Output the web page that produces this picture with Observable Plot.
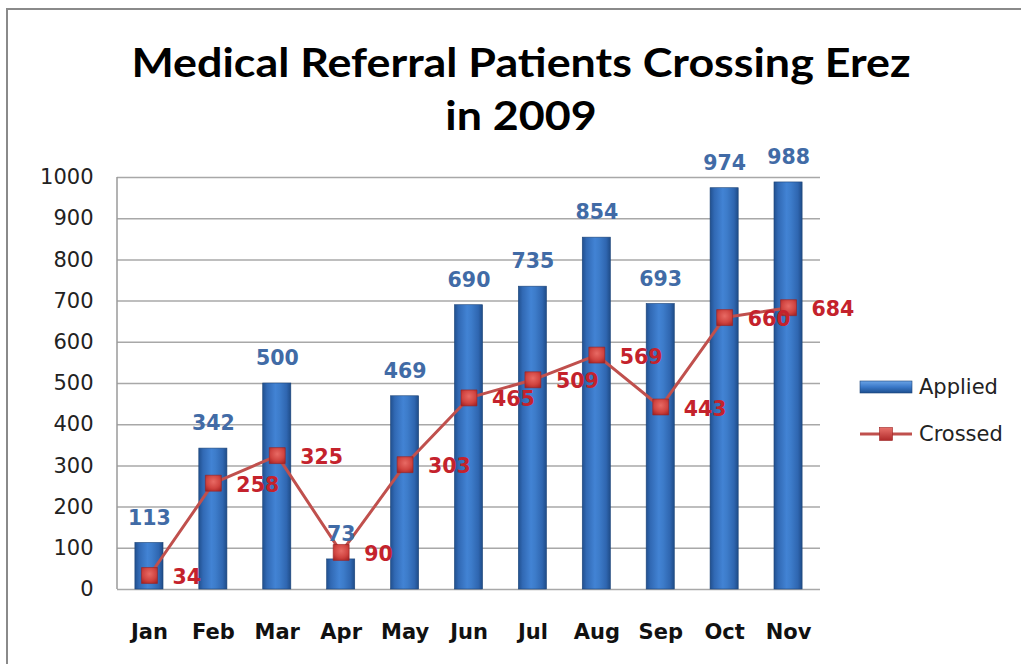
<!DOCTYPE html>
<html>
<head>
<meta charset="utf-8">
<script src="https://cdn.jsdelivr.net/npm/d3@7"></script>
<script src="https://cdn.jsdelivr.net/npm/@observablehq/plot@0.6"></script>
<style>
  html, body { margin: 0; padding: 0; background: #fff; }
  #wrap { position: relative; width: 1021px; height: 664px; overflow: hidden; background: #fff; }
  #frameTop { position: absolute; left: 7px; top: 8px; width: 1014px; height: 0; border-top: 2px solid #8a8a8a; }
  #frameLeft { position: absolute; left: 6px; top: 8px; width: 0; height: 656px; border-left: 2px solid #8a8a8a; }
  #title { position: absolute; left: 0; top: 36px; width: 1042px; text-align: center;
           font-family: Lato, "Open Sans", sans-serif; font-weight: bold; font-size: 40px; line-height: 53px; color: #000;
           transform: scaleX(1.12); transform-origin: 521px 0; }
  #chart { position: absolute; left: 0; top: 0; }
  .leg { position: absolute; font-family: "DejaVu Sans", sans-serif; font-size: 21px; color: #222; line-height: 24px; }
</style>
</head>
<body>
<div id="wrap">
  <div id="chart"></div>
  <div id="frameTop"></div>
  <div id="frameLeft"></div>
  <div id="title">Medical Referral Patients Crossing Erez<br>in 2009</div>
  <svg id="legendSwatches" width="1021" height="664" style="position:absolute;left:0;top:0;pointer-events:none">
    <defs>
      <linearGradient id="legBar" x1="0" y1="0" x2="0" y2="1">
        <stop offset="0" stop-color="#6aa3e6"/>
        <stop offset="0.5" stop-color="#3a78c8"/>
        <stop offset="1" stop-color="#1d4f8f"/>
      </linearGradient>
      <linearGradient id="legSq" x1="0" y1="0" x2="0" y2="1">
        <stop offset="0" stop-color="#e8716b"/>
        <stop offset="1" stop-color="#b02a2a"/>
      </linearGradient>
    </defs>
  </svg>
  <div class="leg" id="legApplied" style="left:919px;top:375px">Applied</div>
  <div class="leg" id="legCrossed" style="left:919px;top:422px">Crossed</div>
</div>
<script>
const months = ["Jan","Feb","Mar","Apr","May","Jun","Jul","Aug","Sep","Oct","Nov"];
const applied = [113, 342, 500, 73, 469, 690, 735, 854, 693, 974, 988];
const crossed = [34, 258, 325, 90, 303, 465, 509, 569, 443, 660, 684];
const yTicks = [0, 100, 200, 300, 400, 500, 600, 700, 800, 900, 1000];
const seriesNames = ["Applied", "Crossed"];

const data = months.map((m, i) => ({month: m, applied: applied[i], crossed: crossed[i]}));

const defsMark = () => {
  const defs = d3.create("svg:defs");
  const g = defs.append("linearGradient").attr("id", "barGrad")
    .attr("x1", 0).attr("y1", 0).attr("x2", 1).attr("y2", 0);
  [[0, "#21508f"], [0.15, "#3169b4"], [0.45, "#4283d4"], [0.6, "#3d7cca"], [0.85, "#2f66b0"], [1, "#1f4c88"]]
    .forEach(([o, c]) => g.append("stop").attr("offset", o).attr("stop-color", c));
  const r = defs.append("radialGradient").attr("id", "sqGrad")
    .attr("cx", 0.5).attr("cy", 0.4).attr("r", 0.7);
  [[0, "#e86a64"], [0.6, "#d04440"], [1, "#a82424"]]
    .forEach(([o, c]) => r.append("stop").attr("offset", o).attr("stop-color", c));
  return defs.node();
};

const leftAxisLine = (index, scales, values, dimensions) => {
  const {marginLeft, marginTop, height, marginBottom} = dimensions;
  return d3.create("svg:line")
    .attr("x1", marginLeft).attr("x2", marginLeft)
    .attr("y1", marginTop).attr("y2", height - marginBottom)
    .attr("stroke", "#9a9a9a").attr("stroke-width", 1.5).node();
};

const chart = Plot.plot({
  width: 1021,
  height: 664,
  marginLeft: 117,
  marginRight: 201,
  marginTop: 177,
  marginBottom: 75,
  style: {fontFamily: "DejaVu Sans, sans-serif", background: "transparent", color: "#222"},
  x: {domain: months, paddingInner: 0.56, paddingOuter: 0.28, round: false, label: null},
  y: {domain: [0, 1000], label: null},
  marks: [
    defsMark,
    Plot.gridY(yTicks, {stroke: "#a8a8a8", strokeOpacity: 1, strokeWidth: 1.5}),
    leftAxisLine,
    Plot.axisY(yTicks, {tickSize: 0, tickPadding: 24, fontSize: 21, fill: "#222", label: null, tickFormat: d => String(d)}),
    Plot.axisX({tickSize: 0, tickPadding: 35, fontSize: 21, fontWeight: "bold", fill: "#111", label: null}),
    Plot.barY(data, {x: "month", y: "applied", fill: "url(#barGrad)", stroke: "#1c4478", strokeWidth: 0.6}),
    Plot.line(data, {x: "month", y: "crossed", stroke: "#c0504d", strokeWidth: 3}),
    Plot.dot(data, {x: "month", y: "crossed", symbol: "square", r: 9, fill: "url(#sqGrad)", stroke: "#9b2222", strokeWidth: 0.6}),
    Plot.text(data, {x: "month", y: "applied", text: d => String(d.applied), dy: -25,
      fill: "#416ba6", fontSize: 20.5, fontWeight: "bold"}),
    Plot.text(data, {x: "month", y: "crossed", text: d => String(d.crossed), dx: 23, dy: 2, textAnchor: "start",
      fill: "#c4222c", fontSize: 20.5, fontWeight: "bold"})
  ]
});
document.getElementById("chart").appendChild(chart);

// legend swatches
const leg = d3.select("#legendSwatches");
leg.append("rect").attr("x", 860).attr("y", 381).attr("width", 52).attr("height", 12)
  .attr("fill", "url(#legBar)").attr("stroke", "#1c4478").attr("stroke-width", 0.6);
leg.append("line").attr("x1", 860).attr("x2", 912).attr("y1", 434).attr("y2", 434)
  .attr("stroke", "#c0504d").attr("stroke-width", 3);
leg.append("rect").attr("x", 879.5).attr("y", 427.5).attr("width", 13).attr("height", 13)
  .attr("fill", "url(#legSq)").attr("stroke", "#9b2222").attr("stroke-width", 0.6);
document.getElementById("legApplied").textContent = seriesNames[0];
document.getElementById("legCrossed").textContent = seriesNames[1];
</script>
</body>
</html>
